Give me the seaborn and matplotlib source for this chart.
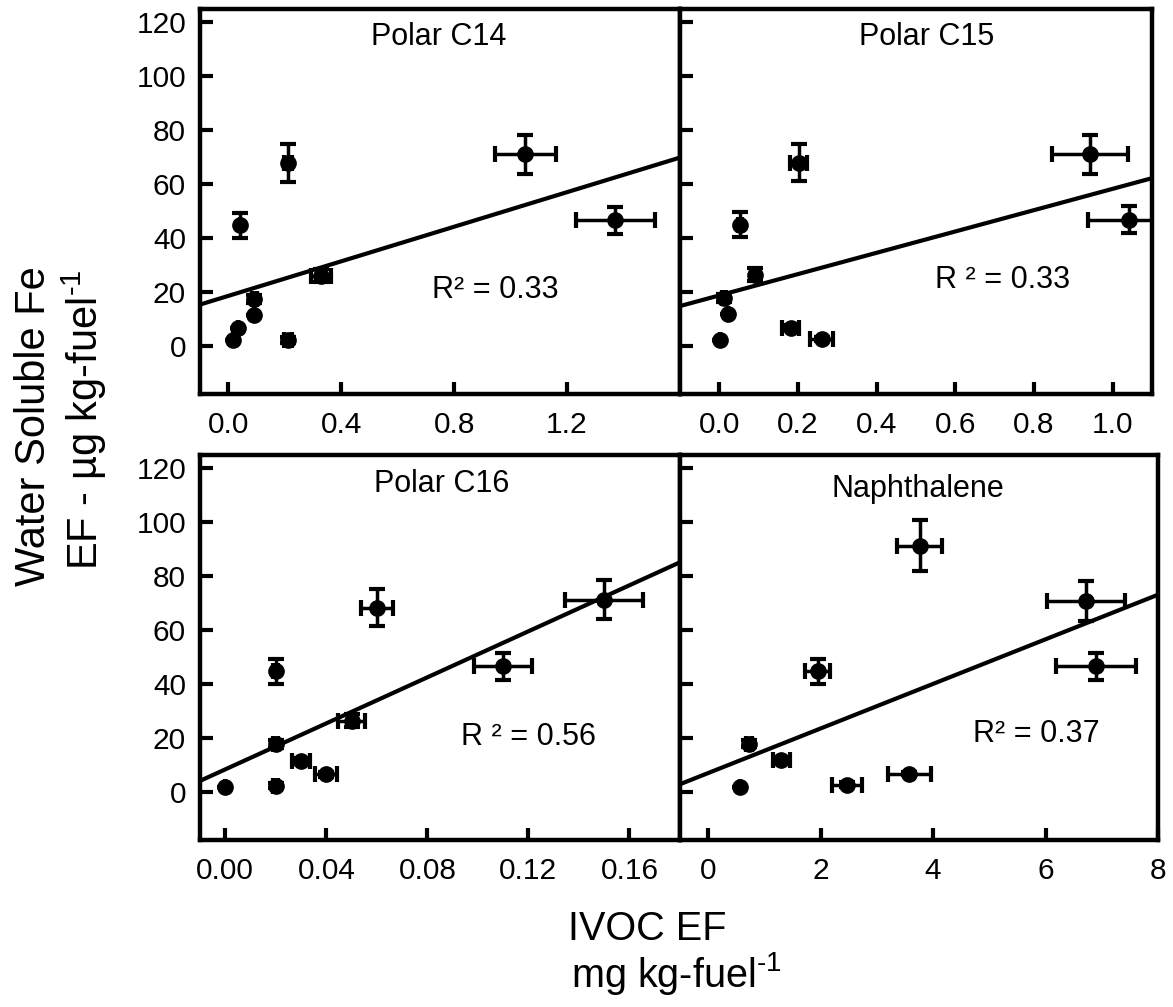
import matplotlib
matplotlib.use("Agg")
import matplotlib.pyplot as plt
import seaborn as sns
import numpy as np

sns.set_style("ticks")
plt.rcParams['font.family'] = ['Liberation Sans', 'DejaVu Sans']
plt.rcParams['mathtext.default'] = 'regular'
plt.rcParams['text.color'] = 'black'
plt.rcParams['axes.labelcolor'] = 'black'
plt.rcParams['xtick.color'] = 'black'
plt.rcParams['ytick.color'] = 'black'

# ---------------- data ----------------
c14_x = [0.017, 0.034, 0.093, 0.093, 0.211, 0.211, 0.042, 0.329, 1.052, 1.371]
c14_y = [1.9, 6.5, 11.5, 17.3, 2.1, 67.8, 44.6, 26.0, 71.0, 46.5]
c14_xerr = [0, 0, 0, 0.010, 0.015, 0.015, 0, 0.035, 0.108, 0.140]
c14_yerr = [0, 0, 0, 1.5, 1.0, 6.9, 4.6, 2.5, 7.2, 5.0]

c15_x = [0.001, 0.022, 0.011, 0.091, 0.053, 0.202, 0.181, 0.260, 0.942, 1.041]
c15_y = [1.9, 11.8, 17.6, 26.3, 44.9, 67.9, 6.6, 2.5, 71.0, 46.7]
c15_xerr = [0, 0, 0.005, 0.008, 0.005, 0.022, 0.021, 0.029, 0.096, 0.104]
c15_yerr = [0, 0, 1.5, 2.5, 4.6, 6.9, 1.0, 0.8, 7.2, 5.0]

c16_x = [0.000, 0.020, 0.020, 0.020, 0.030, 0.040, 0.050, 0.060, 0.110, 0.150]
c16_y = [1.6, 2.2, 17.6, 44.6, 11.3, 6.4, 26.3, 68.3, 46.5, 71.2]
c16_xerr = [0, 0.001, 0.001, 0.001, 0.0034, 0.0044, 0.0053, 0.0064, 0.0114, 0.0155]
c16_yerr = [0, 1.0, 1.5, 4.6, 1.0, 1.0, 2.5, 7.0, 5.0, 7.2]

nap_x = [0.566, 0.726, 1.30, 2.47, 3.58, 1.95, 3.76, 6.72, 6.89]
nap_y = [1.6, 17.8, 11.6, 2.5, 6.6, 44.6, 91.3, 70.8, 46.5]
nap_xerr = [0, 0.05, 0.15, 0.27, 0.38, 0.22, 0.40, 0.69, 0.71]
nap_yerr = [0, 1.2, 1.0, 1.0, 0.5, 4.6, 9.5, 7.5, 5.0]

titles = ["Polar C14", "Polar C15", "Polar C16", "Naphthalene"]
r2_labels = ["R\u00b2 = 0.33", "R \u00b2 = 0.33", "R \u00b2 = 0.56", "R\u00b2 = 0.37"]

c14_ticks = [0.0, 0.4, 0.8, 1.2]
c14_ticklabels = ["0.0", "0.4", "0.8", "1.2"]
c15_ticks = [0.0, 0.2, 0.4, 0.6, 0.8, 1.0]
c15_ticklabels = ["0.0", "0.2", "0.4", "0.6", "0.8", "1.0"]
c16_ticks = [0.00, 0.04, 0.08, 0.12, 0.16]
c16_ticklabels = ["0.00", "0.04", "0.08", "0.12", "0.16"]
nap_ticks = [0, 2, 4, 6, 8]
nap_ticklabels = ["0", "2", "4", "6", "8"]
y_ticks = [0, 20, 40, 60, 80, 100, 120]
y_ticklabels = ["0", "20", "40", "60", "80", "100", "120"]

xlims = [(-0.1, 1.6), (-0.1, 1.1), (-0.01, 0.18), (-0.5, 8.0)]
ylim = (-18, 125)

# ---------------- figure ----------------
W, H = 1173, 1007
fig = plt.figure(figsize=(W / 100, H / 100), dpi=100)


def add(l, t, r, b):
    return fig.add_axes([l / W, 1 - b / H, (r - l) / W, (b - t) / H])


axes = [add(200, 9, 680, 394), add(680, 9, 1152, 394),
        add(200, 455, 680, 840), add(680, 455, 1158, 840)]

panels = [
    (c14_x, c14_y, c14_xerr, c14_yerr, c14_ticks, c14_ticklabels),
    (c15_x, c15_y, c15_xerr, c15_yerr, c15_ticks, c15_ticklabels),
    (c16_x, c16_y, c16_xerr, c16_yerr, c16_ticks, c16_ticklabels),
    (nap_x, nap_y, nap_xerr, nap_yerr, nap_ticks, nap_ticklabels),
]
title_pos = [(0.498, 0.906), (0.523, 0.906), (0.504, 0.904), (0.498, 0.891)]
r2_pos = [(0.615, 0.249), (0.684, 0.275), (0.685, 0.247), (0.745, 0.255)]

for i, (ax, (x, y, xe, ye, xt, xtl)) in enumerate(zip(axes, panels)):
    ax.set_facecolor("white")
    ax.set_xlim(*xlims[i])
    ax.set_ylim(*ylim)
    sns.regplot(x=np.array(x), y=np.array(y), ax=ax, scatter=False, ci=None,
                truncate=False, color="black", line_kws={"lw": 3.0})
    ax.errorbar(x, y, xerr=xe, yerr=ye, fmt="o", color="black", ms=11,
                elinewidth=2.5, capsize=6, capthick=3.0, zorder=3)
    ax.set_xlim(*xlims[i])
    ax.set_ylim(*ylim)
    ax.set_xticks(xt)
    ax.set_xticklabels(xtl)
    ax.set_yticks(y_ticks)
    ax.set_yticklabels(y_ticklabels)
    ax.set_xlabel("")
    ax.set_ylabel("")
    for s in ax.spines.values():
        s.set_linewidth(3.2)
        s.set_color("black")
        s.set_visible(True)
    ax.tick_params(axis="both", direction="in", length=9, width=3.0,
                   labelsize=21.5, color="black", labelcolor="black")
    ax.tick_params(axis="x", pad=12)
    ax.tick_params(axis="y", pad=10)
    if i in (1, 3):
        ax.tick_params(axis="y", labelleft=False)
    ax.text(title_pos[i][0], title_pos[i][1], titles[i], transform=ax.transAxes,
            ha="center", va="baseline", fontsize=22)
    ax.text(r2_pos[i][0], r2_pos[i][1], r2_labels[i], transform=ax.transAxes,
            ha="center", va="baseline", fontsize=22)

# axis labels
fig.text(45 / W, 1 - 426 / H, "Water Soluble Fe", rotation=90,
         rotation_mode="anchor", ha="center", va="baseline", fontsize=30)
fig.text(98 / W, 1 - 420 / H, "EF - \u00b5g kg-fuel$^{\u2010 1}$", rotation=90,
         rotation_mode="anchor", ha="center", va="baseline", fontsize=30)
fig.text(647 / W, 1 - 940 / H, "IVOC EF", ha="center", va="baseline",
         fontsize=28.5)
fig.text(676 / W, 1 - 987 / H, "mg kg-fuel$^{\u2010 1}$", ha="center",
         va="baseline", fontsize=28.5)

fig.savefig("out.png", dpi=100, facecolor="white")
